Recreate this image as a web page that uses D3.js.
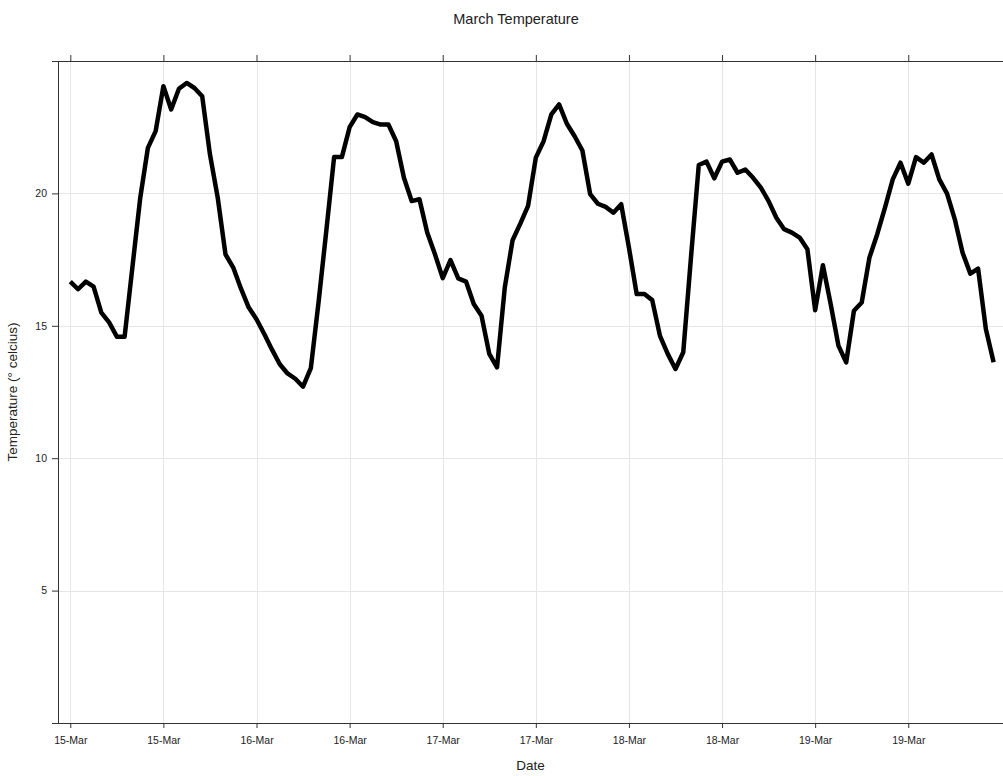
<!DOCTYPE html>
<html>
<head>
<meta charset="utf-8">
<script src="https://cdn.jsdelivr.net/npm/d3@7"></script>
<style>
  html, body { margin: 0; padding: 0; background: #fff; }
  svg { display: block; font-family: "Liberation Sans", Arial, sans-serif; }
</style>
</head>
<body>
<svg id="chart" width="1003" height="776"></svg>
<script>
// ---- data (hourly readings from 15-Mar 00:00) ----
const startTime = "2017-03-15T00:00:00Z";
const temperatures = [
  16.67, 16.38, 16.67, 16.48, 15.5, 15.13, 14.59, 14.59, 17.2, 19.8,
  21.72, 22.35, 24.05, 23.17, 23.95, 24.17, 23.98, 23.67, 21.47, 19.84,
  17.7, 17.2, 16.4, 15.69, 15.25, 14.69, 14.1, 13.55, 13.2, 13.0,
  12.7, 13.4, 15.9, 18.6, 21.37, 21.37, 22.5, 22.98, 22.88, 22.69,
  22.6, 22.6, 21.97, 20.59, 19.71, 19.78, 18.52, 17.7, 16.8, 17.48,
  16.79, 16.67, 15.82, 15.38, 13.94, 13.43, 16.45, 18.23, 18.86, 19.53,
  21.35, 21.97, 22.98, 23.36, 22.63, 22.16, 21.62, 19.97, 19.61, 19.49,
  19.27, 19.59, 17.95, 16.2, 16.2, 15.97, 14.62, 13.94, 13.37, 14.0,
  17.6, 21.07, 21.2, 20.57, 21.2, 21.28, 20.78, 20.9, 20.59, 20.22,
  19.71, 19.08, 18.65, 18.52, 18.33, 17.89, 15.59, 17.29, 15.82, 14.25,
  13.62, 15.57, 15.88, 17.58, 18.46, 19.46, 20.53, 21.16, 20.37, 21.37,
  21.16, 21.47, 20.53, 19.99, 19.02, 17.76, 16.97, 17.16, 14.88, 13.62
];
const yTicks = [5, 10, 15, 20];
const xTickHours = [0, 12, 24, 36, 48, 60, 72, 84, 96, 108];
const titleText = "March Temperature";
const xTitle = "Date";
const yTitle = "Temperature (\u00B0 celcius)";

// ---- layout ----
const mLeft = 58, mRight = 1003, mTop = 61, mBottom = 723;
const t0 = new Date(startTime);
const hour = 3600 * 1000;
const data = temperatures.map((v, i) => ({ t: new Date(t0.getTime() + i * hour), v }));

const x = d3.scaleUtc()
  .domain([new Date(t0.getTime() - 1.585 * hour), new Date(t0.getTime() + 120.21 * hour)])
  .range([mLeft, mRight]);
const y = d3.scaleLinear().domain([0, 25]).range([mBottom, mTop]);

const svg = d3.select("#chart");
const xTickDates = xTickHours.map(h => new Date(t0.getTime() + h * hour));
const fmt = d3.utcFormat("%d-%b");

// grid
const grid = svg.append("g").attr("stroke", "#e6e6e6").attr("stroke-width", 1).attr("shape-rendering", "crispEdges");
grid.selectAll("line.v").data(xTickDates).join("line").attr("class", "v")
  .attr("x1", d => Math.round(x(d)) + 0.5).attr("x2", d => Math.round(x(d)) + 0.5)
  .attr("y1", mTop).attr("y2", mBottom);
grid.selectAll("line.h").data(yTicks).join("line").attr("class", "h")
  .attr("x1", mLeft).attr("x2", mRight)
  .attr("y1", d => Math.round(y(d)) + 0.5).attr("y2", d => Math.round(y(d)) + 0.5);

// bottom axis
const xAxis = d3.axisBottom(x).tickValues(xTickDates).tickFormat(fmt).tickSize(5).tickPadding(9).tickSizeOuter(0);
const gx = svg.append("g").attr("transform", `translate(0,${mBottom})`).call(xAxis);
gx.select(".domain").attr("d", `M${mLeft - 6},0.5H${mRight}`).attr("stroke", "#333");
gx.selectAll(".tick line").attr("stroke", "#333");
gx.selectAll(".tick text").attr("fill", "#222").style("font-size", "10.5px").style("font-family", "Liberation Sans, Arial, sans-serif");

// top axis (ticks only)
const xAxisTop = d3.axisTop(x).tickValues(xTickDates).tickFormat("").tickSize(6).tickSizeOuter(0);
const gt = svg.append("g").attr("transform", `translate(0,${mTop})`).call(xAxisTop);
gt.select(".domain").attr("d", `M${mLeft - 6},0.5H${mRight}`).attr("stroke", "#333");
gt.selectAll(".tick line").attr("stroke", "#333");

// left axis
const yAxis = d3.axisLeft(y).tickValues(yTicks).tickSize(6).tickPadding(5).tickSizeOuter(0);
const gy = svg.append("g").attr("transform", `translate(${mLeft},0)`).call(yAxis);
gy.select(".domain").attr("d", `M0.5,${mTop}V${mBottom}`).attr("stroke", "#333");
gy.selectAll(".tick line").attr("stroke", "#333");
gy.selectAll(".tick text").attr("fill", "#222").style("font-size", "10.5px").style("font-family", "Liberation Sans, Arial, sans-serif");

// line
const line = d3.line().x(d => x(d.t)).y(d => y(d.v));
svg.append("path").datum(data)
  .attr("fill", "none").attr("stroke", "#000").attr("stroke-width", 4.5)
  .attr("stroke-linejoin", "round").attr("stroke-linecap", "butt")
  .attr("d", line);

// titles
svg.append("text").attr("x", 516).attr("y", 24).attr("text-anchor", "middle")
  .style("font-size", "14.5px").attr("fill", "#222").text(titleText);
svg.append("text").attr("x", (mLeft + mRight) / 2).attr("y", 770).attr("text-anchor", "middle")
  .style("font-size", "13.5px").attr("fill", "#222").text(xTitle);
svg.append("text").attr("transform", `translate(17,${(mTop + mBottom) / 2}) rotate(-90)`).attr("text-anchor", "middle")
  .style("font-size", "13.5px").attr("fill", "#222").text(yTitle);
</script>
</body>
</html>
